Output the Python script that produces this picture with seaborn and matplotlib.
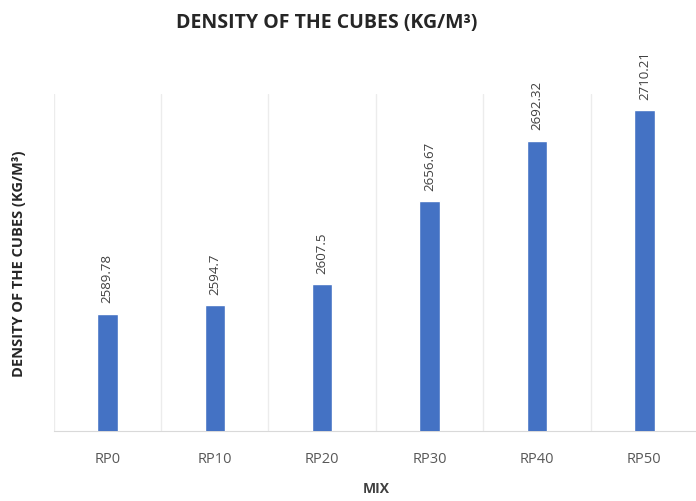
import numpy as np
import pandas as pd
import matplotlib
matplotlib.use("Agg")
import matplotlib.pyplot as plt
import seaborn as sns

# density of the cubes per mix
mixes = ["RP0", "RP10", "RP20", "RP30", "RP40", "RP50"]
density = [2589.78, 2594.7, 2607.5, 2656.67, 2692.32, 2710.21]
value_labels = ["2589.78", "2594.7", "2607.5", "2656.67", "2692.32", "2710.21"]

data = pd.DataFrame({"MIX": mixes, "Density": density})

sns.set_style("white")
plt.rcParams['font.family'] = ['Open Sans', 'DejaVu Sans']

fig = plt.figure(figsize=(6.96, 5.02), dpi=100)
ax = fig.add_axes([0.077, 0.139, 0.926, 0.672])

sns.barplot(data=data, x="MIX", y="Density", color="#4472C4", width=0.19,
            saturation=1, ax=ax, zorder=3)

ax.set_ylim(2520, 2720)
ax.set_xlim(-0.5, len(mixes) - 0.5)

# vertical separators between categories
for b in np.arange(-0.5, len(mixes), 1.0):
    ax.axvline(b, color="#ececec", lw=1, zorder=0)

for i, (v, lab) in enumerate(zip(density, value_labels)):
    ax.annotate(lab, (i, v), xytext=(0, 8), textcoords="offset points",
                rotation=90, ha="center", va="bottom", fontsize=9.5, color="#404040")

ax.set_yticks([])
ax.tick_params(axis="x", length=0, pad=14, labelsize=10.5, labelcolor="#595959")
for s in ["top", "right", "left"]:
    ax.spines[s].set_visible(False)
ax.spines["bottom"].set_color("#d9d9d9")

ax.set_xlabel("MIX", fontsize=10, fontweight="bold", color="#404040", labelpad=11)
ax.set_ylabel("DENSITY OF THE CUBES (KG/M³)", fontsize=10.5, fontweight="bold",
              color="#262626", labelpad=20)
fig.text(0.47, 0.955, "DENSITY OF THE CUBES (KG/M³)", ha="center", va="center",
         fontsize=14, fontweight="bold", color="#262626")

fig.savefig("out.png", dpi=100)
